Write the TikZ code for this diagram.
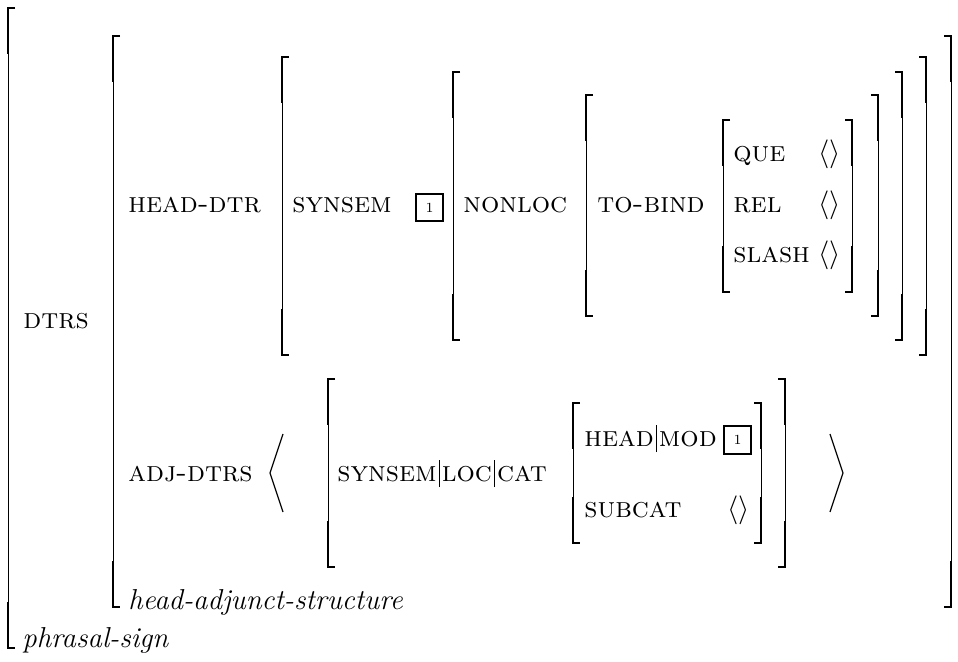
\documentclass[tikz,border=0pt]{standalone}
\usepackage{amsmath}
\usepackage{amssymb}
\usepackage{tikz}
% bracket pieces: x, top, bottom (picture units)
\newcommand{\lbrk}[3]{%
  \draw[brkthin] (#1,#2) -- (#1,#3);
  \draw[brkthick] (#1+7,#2) -- (#1,#2) -- (#1,#2+46);
  \draw[brkthick] (#1,#3-46) -- (#1,#3) -- (#1+7,#3);}
\newcommand{\rbrk}[3]{%
  \draw[brkthin] (#1,#2) -- (#1,#3);
  \draw[brkthick] (#1-7,#2) -- (#1,#2) -- (#1,#2+46);
  \draw[brkthick] (#1,#3-46) -- (#1,#3) -- (#1-7,#3);}
\newcommand{\pbar}{\kern1pt\vrule width .6pt height 10.5pt depth 3pt\kern1pt}
\newcommand{\feat}[1]{\textsc{#1}}
\tikzset{
  brkthin/.style={line width=0.5pt},
  brkthick/.style={line width=1pt,line join=miter},
  lbl/.style={anchor=base west,inner sep=0pt},
  tag/.style={draw,line width=1pt,minimum size=13.5pt,inner sep=0pt,font=\scriptsize},
  angl/.style={line width=0.6pt}
}

\begin{document}
\begin{tikzpicture}[x=0.5pt,y=-0.5pt,font=\fontsize{14.4}{16}\selectfont]
			\useasboundingbox (0,0) rectangle (958,662);
			% left brackets
			\lbrk{8}{8}{648}
			\lbrk{113}{36}{607}
			\lbrk{282}{57}{355}
			\lbrk{453}{72}{340}
			\lbrk{586}{95}{316}
			\lbrk{723}{120}{292}
			\lbrk{328}{379}{567}
			\lbrk{573}{403}{543}
			% right brackets
			\rbrk{852}{120}{292}
			\rbrk{878}{95}{316}
			\rbrk{902}{72}{340}
			\rbrk{926}{57}{355}
			\rbrk{951}{36}{607}
			\rbrk{761}{403}{543}
			\rbrk{785}{379}{567}
			% list brackets
			\draw[angl] (283,434) -- (270,473) -- (283,512);
			\draw[angl] (830,434) -- (843,473) -- (830,512);
			% features
			\node[lbl] (dtrs) at (23,329) {\feat{dtrs}};
			\node[lbl] (headdtr) at (128,213) {\feat{head-dtr}};
			\node[lbl] (synsem) at (292,213) {\feat{synsem}};
			\node[tag] (tagone) at (429.5,208) {1};
			\node[lbl] (nonloc) at (463,213) {\feat{nonloc}};
			\node[lbl] (tobind) at (597,213) {\feat{to-bind}};
			\node[lbl] (que) at (733,162) {\feat{que}};
			\node[lbl] (rel) at (733,213) {\feat{rel}};
			\node[lbl] (slash) at (733,263) {\feat{slash}};
			\node[lbl] (queval) at (818,162) {$\langle\rangle$};
			\node[lbl] (relval) at (818,213) {$\langle\rangle$};
			\node[lbl] (slashval) at (818,263) {$\langle\rangle$};
			\node[lbl] (adjdtrs) at (128,481) {\feat{adj-dtrs}};
			\node[lbl] (slc) at (337,481) {\feat{synsem}\pbar\feat{loc}\pbar\feat{cat}};
			\node[lbl] (headmod) at (584,446) {\feat{head}\pbar\feat{mod}};
			\node[tag] (tagtwo) at (737.5,440) {1};
			\node[lbl] (subcat) at (584,517) {\feat{subcat}};
			\node[lbl] (subcatval) at (727,517) {$\langle\rangle$};
			% types
			\node[lbl] (hastype) at (128,609) {\textit{head-adjunct-structure}};
			\node[lbl] (pstype) at (22,647) {\textit{phrasal-sign}};
		\end{tikzpicture}
\end{document}
